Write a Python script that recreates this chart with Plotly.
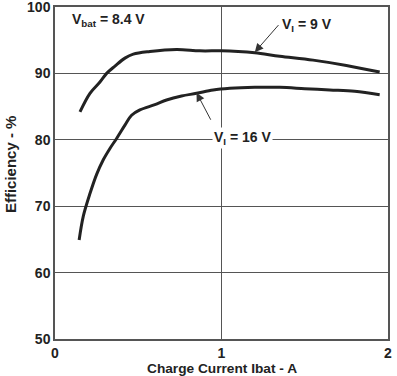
import plotly.graph_objects as go

# Charge current (A) and efficiency (%) for each input voltage
current_9v = [0.15, 0.21, 0.27, 0.31, 0.36, 0.42, 0.47, 0.57, 0.73, 0.87, 1.0, 1.1, 1.2, 1.35, 1.55, 1.75, 1.95]
eff_9v = [84.2, 87.0, 88.7, 90.0, 91.1, 92.3, 92.9, 93.3, 93.6, 93.4, 93.4, 93.3, 93.1, 92.6, 92.0, 91.2, 90.2]

current_16v = [0.145, 0.17, 0.21, 0.25, 0.29, 0.33, 0.37, 0.42, 0.46, 0.51, 0.6, 0.67, 0.76, 0.85, 0.95,
               1.05, 1.2, 1.35, 1.5, 1.65, 1.8, 1.95]
eff_16v = [64.9, 68.5, 71.9, 74.8, 77.0, 78.7, 80.2, 82.2, 83.7, 84.5, 85.3, 86.0, 86.6, 87.0, 87.5,
           87.75, 87.9, 87.9, 87.7, 87.5, 87.3, 86.8]

x_ticks = [0, 1, 2]
y_ticks = [50, 60, 70, 80, 90, 100]

FONT = "Liberation Sans, Arial, sans-serif"
AX = "#555555"
LINE = "#222222"
TXT = "#222222"

fig = go.Figure()
fig.add_trace(go.Scatter(x=current_9v, y=eff_9v, mode="lines",
                         line=dict(color=LINE, width=3, shape="spline"), showlegend=False))
fig.add_trace(go.Scatter(x=current_16v, y=eff_16v, mode="lines",
                         line=dict(color=LINE, width=3, shape="spline"), showlegend=False))

fig.update_layout(
    width=397, height=376,
    margin=dict(l=55, r=9, t=7, b=37, autoexpand=False),
    plot_bgcolor="white", paper_bgcolor="white",
    font=dict(family=FONT, size=13, color=TXT, weight="bold"),
    xaxis=dict(range=[0, 2], tickvals=x_ticks, ticktext=[str(v) for v in x_ticks],
               showgrid=True, gridcolor=AX, gridwidth=1, zeroline=False, automargin=False,
               showline=True, linecolor=AX, linewidth=1.5, mirror=True, ticks="",
               ticklabeloverflow="allow",
               tickfont=dict(size=14, family=FONT, weight="bold", color=TXT)),
    yaxis=dict(range=[50, 100], tickvals=y_ticks, ticktext=[str(v) for v in y_ticks],
               showgrid=True, gridcolor=AX, gridwidth=1, zeroline=False, automargin=False,
               showline=True, linecolor=AX, linewidth=1.5, mirror=True, ticks="",
               ticklabeloverflow="allow",
               tickfont=dict(size=14, family=FONT, weight="bold", color=TXT)),
)

# axis titles
fig.add_annotation(x=0.5, y=-0.088, xref="paper", yref="paper", xanchor="center", yanchor="middle",
                   text="Charge Current Ibat - A", showarrow=False,
                   font=dict(size=13.7, family=FONT, weight="bold", color=TXT))
fig.add_annotation(x=-0.135, y=0.527, xref="paper", yref="paper", xanchor="center", yanchor="middle",
                   text="Efficiency - %", showarrow=False, textangle=-90,
                   font=dict(size=15, family=FONT, weight="bold", color=TXT))

fig.add_annotation(x=0.09, y=98, xref="x", yref="y", xanchor="left", yanchor="middle",
                   text="V<sub>bat</sub> = 8.4 V", showarrow=False,
                   font=dict(size=14, family=FONT, weight="bold", color=TXT))
fig.add_annotation(x=1.35, y=97.3, xref="x", yref="y", xanchor="left", yanchor="middle",
                   text="V<sub>I</sub> = 9 V", showarrow=False,
                   font=dict(size=14, family=FONT, weight="bold", color=TXT))
fig.add_annotation(x=0.945, y=80.3, xref="x", yref="y", xanchor="left", yanchor="middle",
                   text="V<sub>I</sub> = 16 V", showarrow=False, bgcolor="white",
                   font=dict(size=14, family=FONT, weight="bold", color=TXT))
# arrows
fig.add_annotation(x=1.2, y=93.2, xref="x", yref="y", ax=1.35, ay=97.5, axref="x", ayref="y",
                   text="", showarrow=True, arrowhead=2, arrowsize=1.7, arrowwidth=1, arrowcolor="#333333")
fig.add_annotation(x=0.85, y=87.1, xref="x", yref="y", ax=0.94, ay=82.8, axref="x", ayref="y",
                   text="", showarrow=True, arrowhead=2, arrowsize=1.7, arrowwidth=1, arrowcolor="#333333")

fig.write_html("out.html", config={"displayModeBar": False},
               post_script="document.body.style.margin='0px';")
